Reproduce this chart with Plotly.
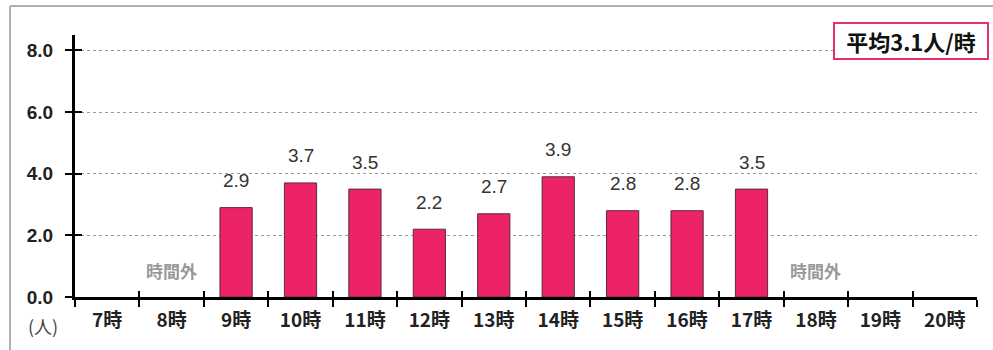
import plotly.graph_objects as go

hours = ["7時", "8時", "9時", "10時", "11時", "12時", "13時", "14時", "15時", "16時", "17時", "18時", "19時", "20時"]
values = [None, None, 2.9, 3.7, 3.5, 2.2, 2.7, 3.9, 2.8, 2.8, 3.5, None, None, None]
value_labels = ["", "", "2.9", "3.7", "3.5", "2.2", "2.7", "3.9", "2.8", "2.8", "3.5", "", "", ""]
off_hours = ["8時", "18時"]
off_label = "時間外"
average_label = "平均3.1人/時"
unit_label = "(人)"
y_ticks = [0, 2, 4, 6, 8]
y_ticktext = ["0.0", "2.0", "4.0", "6.0", "8.0"]

FONT = "Noto Sans CJK JP"
NUMFONT = "Liberation Sans"
L, R, T, B = 75, 16, 35, 53
W, H = 993, 350
pw, ph = W - L - R, H - T - B
xr = [-0.5, len(hours) - 0.5]

fig = go.Figure()
fig.add_trace(go.Bar(
    x=hours, y=values, width=0.5,
    marker=dict(color="#EC2466", line=dict(color="#5a2a3a", width=1)),
    hoverinfo="skip", showlegend=False,
))
# ghost trace for overlay axes (inner tick halves)
fig.add_trace(go.Scatter(x=hours, y=[0]*len(hours), xaxis="x2", yaxis="y2",
                         mode="markers", marker=dict(opacity=0), showlegend=False, hoverinfo="skip"))

for h, v, t in zip(hours, values, value_labels):
    if v is not None:
        fig.add_annotation(x=h, y=v, text=t, showarrow=False, yshift=27,
                           font=dict(family=NUMFONT, size=19, color="#333333"))
for h in off_hours:
    fig.add_annotation(x=h, y=0.87, text="<b>" + off_label + "</b>", showarrow=False,
                       font=dict(family=FONT, size=17, color="#999999"))

fig.add_annotation(xref="paper", yref="paper", x=(910.5 - L) / pw, y=(H - B - 41) / ph,
                   text="<b>" + average_label + "</b>", showarrow=False,
                   font=dict(family=FONT, size=22, color="#111111"),
                   bordercolor="#E5306A", borderwidth=2, borderpad=2, bgcolor="white",
                   xanchor="center", yanchor="middle", width=148, height=30)
fig.add_annotation(xref="paper", yref="paper", x=(43 - L) / pw, y=(H - B - 326) / ph,
                   text=unit_label, showarrow=False,
                   font=dict(family=FONT, size=18, color="#444444"),
                   xanchor="center", yanchor="middle")

# outer frame
fig.add_shape(type="line", xref="paper", yref="paper",
              x0=(10 - L) / pw, x1=(W + 5 - L) / pw, y0=(H - B - 6) / ph, y1=(H - B - 6) / ph,
              line=dict(color="#b0b0b0", width=2))
fig.add_shape(type="line", xref="paper", yref="paper",
              x0=(10 - L) / pw, x1=(10 - L) / pw, y0=(H - B - 6) / ph, y1=(H - B - 360) / ph,
              line=dict(color="#b0b0b0", width=2))

fig.update_layout(
    width=W, height=H, margin=dict(l=L, r=R, t=T, b=B),
    plot_bgcolor="white", paper_bgcolor="white", bargap=0.5,
    xaxis=dict(type="category", categoryorder="array", categoryarray=hours, range=xr,
               showline=True, linecolor="black", linewidth=3,
               ticks="outside", tickson="boundaries", ticklen=7, tickwidth=2, tickcolor="black",
               tickfont=dict(family=FONT, size=19, color="#222222", weight="bold"), ticklabelstandoff=4,
               showgrid=False, fixedrange=True),
    yaxis=dict(range=[0, 8.5], tickvals=y_ticks, ticktext=y_ticktext,
               showline=True, linecolor="black", linewidth=3,
               ticks="outside", ticklen=7, tickwidth=2, tickcolor="black",
               tickfont=dict(family=NUMFONT, size=19, color="#222222", weight="bold"), ticklabelstandoff=8,
               showgrid=True, gridcolor="#999999", gridwidth=1, griddash="dot",
               zeroline=False, fixedrange=True),
    xaxis2=dict(type="category", categoryorder="array", categoryarray=hours, overlaying="x", range=xr,
                ticks="inside", tickson="boundaries", ticklen=6, tickwidth=2, tickcolor="black",
                showticklabels=False, showgrid=False, showline=False),
    yaxis2=dict(range=[0, 8.5], tickvals=y_ticks, overlaying="y",
                ticks="inside", ticklen=7, tickwidth=2, tickcolor="black",
                showticklabels=False, showgrid=False, showline=False, zeroline=False),
    font=dict(family=FONT),
)

fig.write_html("out.html")
